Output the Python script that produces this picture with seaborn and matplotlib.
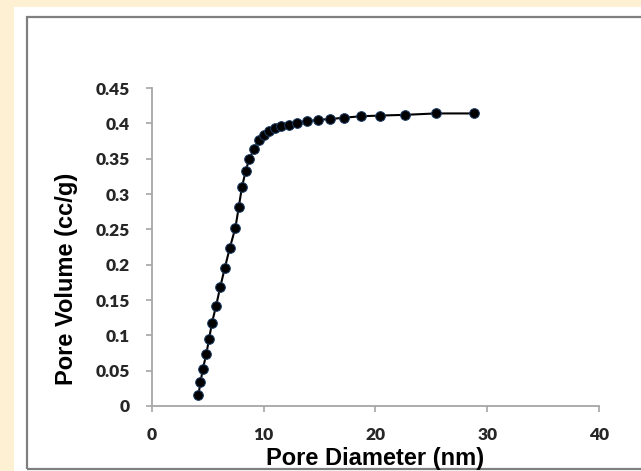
import matplotlib
matplotlib.use("Agg")
import matplotlib.pyplot as plt
import seaborn as sns
import pandas as pd
from matplotlib.patches import Rectangle

pore_diameter = [4.15, 4.34, 4.56, 4.85, 5.11, 5.37, 5.74, 6.10, 6.51, 6.95, 7.46, 7.76,
                 8.05, 8.38, 8.68, 9.12, 9.56, 10.04, 10.51, 11.03, 11.58, 12.24, 12.98,
                 13.86, 14.82, 15.92, 17.21, 18.68, 20.44, 22.6, 25.4, 28.8]
pore_volume = [0.015, 0.034, 0.053, 0.073, 0.095, 0.118, 0.142, 0.168, 0.195, 0.223, 0.252,
               0.281, 0.310, 0.332, 0.349, 0.363, 0.376, 0.384, 0.389, 0.393, 0.396, 0.398,
               0.401, 0.403, 0.405, 0.406, 0.408, 0.410, 0.411, 0.412, 0.414, 0.414]
x_ticks = [0, 10, 20, 30, 40]
y_ticks = [0, 0.05, 0.1, 0.15, 0.2, 0.25, 0.3, 0.35, 0.4, 0.45]
y_tick_labels = ["0", "0.05", "0.1", "0.15", "0.2", "0.25", "0.3", "0.35", "0.4", "0.45"]

df = pd.DataFrame({"Pore Diameter (nm)": pore_diameter, "Pore Volume (cc/g)": pore_volume})

sns.set_style("white")
W, H = 641, 471
fig = plt.figure(figsize=(W / 100, H / 100), dpi=100)
fig.patch.set_facecolor("#FEF1D3")
# white panel and gray frame
fig.patches.append(Rectangle((14 / W, 0), 1, 1 - 7 / H, transform=fig.transFigure,
                             facecolor="white", edgecolor="none", zorder=-10))
fig.patches.append(Rectangle((27 / W, 1 - 469 / H), 1, (469 - 17) / H, transform=fig.transFigure,
                             facecolor="none", edgecolor="#7f7f7f", linewidth=1.6, zorder=-9))

ax = fig.add_axes([152 / W, 1 - 406 / H, (599 - 152) / W, (406 - 88) / H])
ax.set_zorder(5)
ax.set_facecolor("none")
sns.lineplot(data=df, x="Pore Diameter (nm)", y="Pore Volume (cc/g)", ax=ax, color="black",
             linewidth=1.5, marker="o", markersize=7, markerfacecolor="black",
             markeredgecolor="#1d3d66", markeredgewidth=0.7, zorder=3)

ax.set_xlim(0, 40)
ax.set_ylim(0, 0.45)
ax.set_xticks(x_ticks)
ax.set_xticklabels([str(t) for t in x_ticks])
ax.set_yticks(y_ticks)
ax.set_yticklabels(y_tick_labels)

for s in ["top", "right"]:
    ax.spines[s].set_visible(False)
for s in ["left", "bottom"]:
    ax.spines[s].set_color("#a6a6a6")
    ax.spines[s].set_linewidth(1.3)

ax.tick_params(axis="both", which="major", direction="out", length=4, width=1.2,
               color="#a6a6a6", left=True, bottom=True)
ax.tick_params(axis="y", pad=12)
ax.tick_params(axis="x", pad=11)
for lab in ax.get_xticklabels() + ax.get_yticklabels():
    lab.set_fontfamily("Lato")
    lab.set_fontweight("heavy")
    lab.set_fontsize(12.5)
    lab.set_color("#262626")

ax.set_xlabel("Pore Diameter (nm)", fontfamily="Liberation Sans", fontweight="bold",
              fontsize=17, color="black", labelpad=0)
ax.set_ylabel("Pore Volume (cc/g)", fontfamily="Liberation Sans", fontweight="bold",
              fontsize=17, color="black", labelpad=8)
ax.xaxis.set_label_coords(0.5, -0.13)
ax.yaxis.set_label_coords(-0.165, 0.40)

fig.savefig("out.png", dpi=100, facecolor=fig.get_facecolor())
